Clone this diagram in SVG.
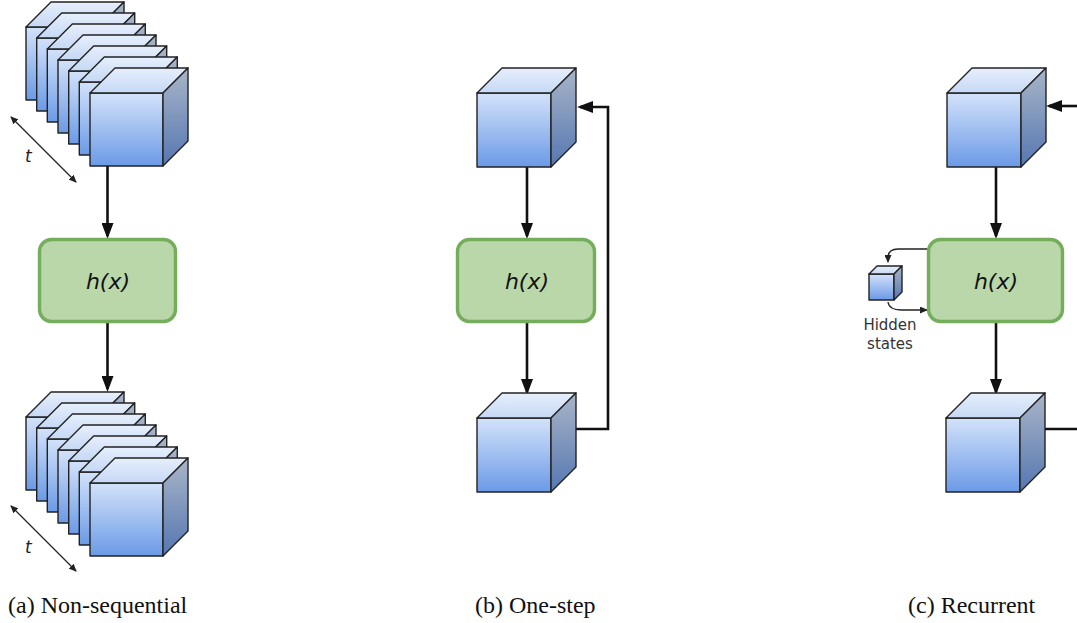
<svg xmlns="http://www.w3.org/2000/svg" xmlns:xlink="http://www.w3.org/1999/xlink" width="1077" height="623" viewBox="0 0 1077 623">
<style>
.front{fill:url(#gFront);stroke:#222;stroke-width:1.4;stroke-linejoin:round}
.top{fill:url(#gTop);stroke:#222;stroke-width:1.4;stroke-linejoin:round}
.side{fill:url(#gSide);stroke:#222;stroke-width:1.4;stroke-linejoin:round}
.box{fill:#b9d7a8;stroke:#74ad5b;stroke-width:3.4}
.lbl{font-family:"DejaVu Sans","Verdana",sans-serif;font-style:italic;font-size:22px;fill:#111;text-anchor:middle}
.edge{fill:none;stroke:#111;stroke-width:2.6}
.thin{fill:none;stroke:#222;stroke-width:1.3}
.cap{font-family:"Liberation Serif","Times New Roman",serif;font-size:24px;fill:#111}
.small{font-family:"DejaVu Sans","Verdana",sans-serif;font-size:15px;fill:#333;text-anchor:middle}
.t{font-family:"DejaVu Sans","Verdana",sans-serif;font-style:italic;font-size:17px;fill:#222}
</style>
<defs>
<linearGradient id="gFront" x1="0" y1="0" x2="0" y2="1"><stop offset="0" stop-color="#d3e2fa"/><stop offset="1" stop-color="#6b9ae6"/></linearGradient>
<linearGradient id="gTop" x1="0" y1="0" x2="0" y2="1"><stop offset="0" stop-color="#e6effc"/><stop offset="1" stop-color="#c6d8f5"/></linearGradient>
<linearGradient id="gSide" x1="0" y1="0" x2="0" y2="1"><stop offset="0" stop-color="#a9b5c8"/><stop offset="1" stop-color="#5577b1"/></linearGradient>
<marker id="ah" markerUnits="userSpaceOnUse" markerWidth="16" markerHeight="12" refX="13" refY="6" orient="auto" viewBox="0 0 16 12"><path d="M0,0 L16,6 L0,12 z" fill="#111"/></marker>
<marker id="ahs" markerUnits="userSpaceOnUse" markerWidth="8" markerHeight="7" refX="7" refY="3.5" orient="auto-start-reverse" viewBox="0 0 8 7"><path d="M0,0 L8,3.5 L0,7 z" fill="#222"/></marker>
<g id="cube73">
<rect class="front" x="0" y="0" width="73" height="73"/>
<polygon class="top" points="0,0 25,-25 98,-25 73,0"/>
<polygon class="side" points="73,0 98,-25 98,48 73,73"/>
</g>
<g id="cube74">
<rect class="front" x="0" y="0" width="74" height="74"/>
<polygon class="top" points="0,0 25,-25 99,-25 74,0"/>
<polygon class="side" points="74,0 99,-25 99,49 74,74"/>
</g>
</defs>
<rect width="1077" height="623" fill="#fff"/>

<g id="connectors">
<line class="edge" x1="107.5" y1="166" x2="107.5" y2="236" marker-end="url(#ah)"/>
<line class="edge" x1="107.5" y1="321" x2="107.5" y2="389" marker-end="url(#ah)"/>
<line class="thin" x1="11" y1="117" x2="76" y2="182" marker-start="url(#ahs)" marker-end="url(#ahs)"/>
<line class="thin" x1="11" y1="506" x2="76" y2="571" marker-start="url(#ahs)" marker-end="url(#ahs)"/>

<line class="edge" x1="527" y1="167" x2="527" y2="236" marker-end="url(#ah)"/>
<line class="edge" x1="527" y1="322" x2="527" y2="392" marker-end="url(#ah)"/>
<polyline class="edge" points="576,429 608,429 608,107 580,107" marker-end="url(#ah)"/>

<line class="edge" x1="996" y1="167" x2="996" y2="236" marker-end="url(#ah)"/>
<line class="edge" x1="996" y1="321" x2="996" y2="392" marker-end="url(#ah)"/>
<line class="edge" x1="1080" y1="106" x2="1049" y2="106" marker-end="url(#ah)"/>
<line class="edge" x1="1045" y1="429" x2="1080" y2="429"/>
<path class="thin" d="M928,249 L898,249 Q888,249 888,258 L888,262" marker-end="url(#ahs)"/>
<path class="thin" d="M888,302 Q889,310 902,310 L927,310" marker-end="url(#ahs)"/>
</g>

<g id="stack-in">
<use xlink:href="#cube73" href="#cube73" x="26" y="27"/>
<use xlink:href="#cube73" href="#cube73" x="36.7" y="38"/>
<use xlink:href="#cube73" href="#cube73" x="47.3" y="49"/>
<use xlink:href="#cube73" href="#cube73" x="58" y="60"/>
<use xlink:href="#cube73" href="#cube73" x="68.7" y="71"/>
<use xlink:href="#cube73" href="#cube73" x="79.3" y="82"/>
<use xlink:href="#cube73" href="#cube73" x="90" y="93"/>
<text class="t" x="25" y="162">t</text>
</g>
<g id="hx-a">
<rect class="box" x="39.5" y="239.5" width="136" height="82" rx="12"/>
<text class="lbl" x="108" y="289">h(x)</text>
</g>
<g id="stack-out">
<use xlink:href="#cube73" href="#cube73" x="26" y="417"/>
<use xlink:href="#cube73" href="#cube73" x="36.7" y="428"/>
<use xlink:href="#cube73" href="#cube73" x="47.3" y="439"/>
<use xlink:href="#cube73" href="#cube73" x="58" y="450"/>
<use xlink:href="#cube73" href="#cube73" x="68.7" y="461"/>
<use xlink:href="#cube73" href="#cube73" x="79.3" y="472"/>
<use xlink:href="#cube73" href="#cube73" x="90" y="483"/>
<text class="t" x="25" y="553">t</text>
</g>

<g id="b-in"><use xlink:href="#cube74" href="#cube74" x="477" y="93"/></g>
<g id="hx-b">
<rect class="box" x="457.5" y="239.5" width="137" height="82" rx="12"/>
<text class="lbl" x="527" y="289">h(x)</text>
</g>
<g id="b-out"><use xlink:href="#cube74" href="#cube74" x="477" y="418"/></g>

<g id="c-in"><use xlink:href="#cube74" href="#cube74" x="947" y="93"/></g>
<g id="hx-c">
<rect class="box" x="928.5" y="239.5" width="134" height="82" rx="12"/>
<text class="lbl" x="996" y="289">h(x)</text>
</g>
<g id="c-out"><use xlink:href="#cube74" href="#cube74" x="946" y="418"/></g>
<g id="hidden">
<rect class="front" x="869" y="274" width="25" height="26"/>
<polygon class="top" points="869,274 877,266 902,266 894,274"/>
<polygon class="side" points="894,274 902,266 902,292 894,300"/>
<text class="small" x="890" y="330">Hidden</text>
<text class="small" x="890" y="349">states</text>
</g>

<g id="captions">
<text class="cap" x="8" y="613">(a) Non-sequential</text>
<text class="cap" x="475" y="613">(b) One-step</text>
<text class="cap" x="908" y="613">(c) Recurrent</text>
</g>
</svg>
